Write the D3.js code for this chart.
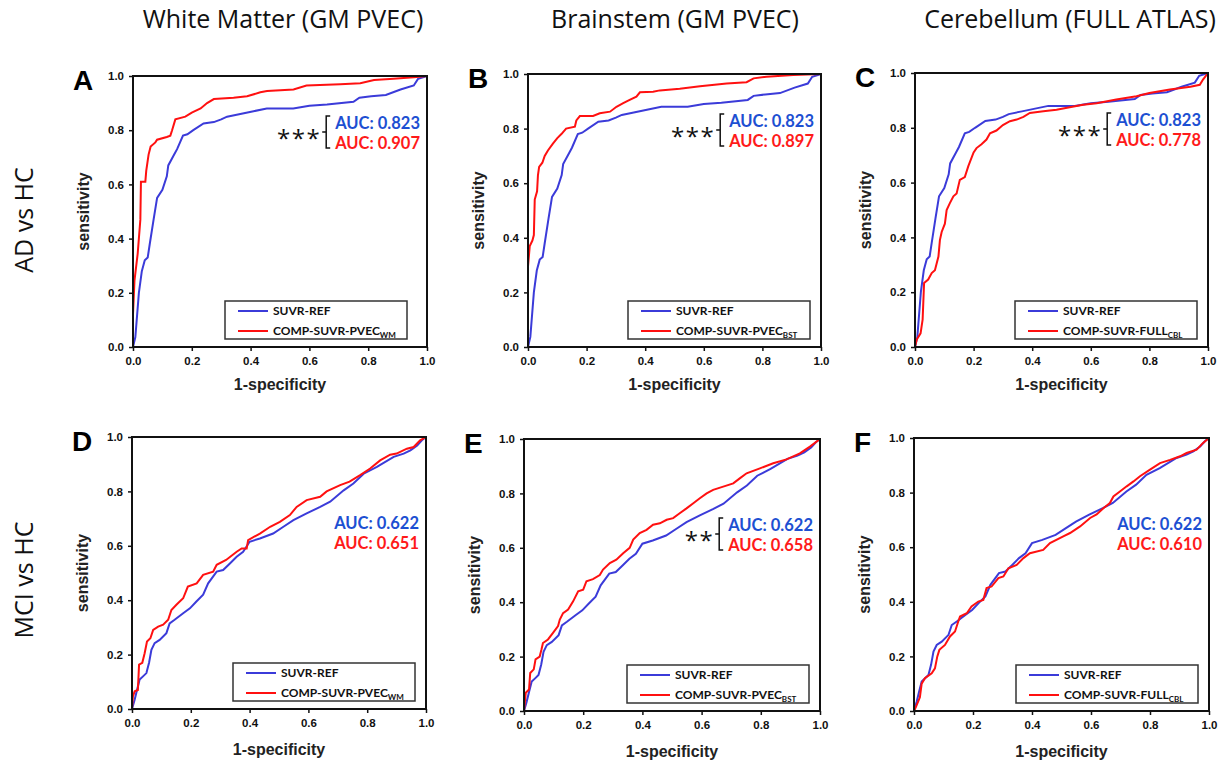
<!DOCTYPE html>
<html>
<head>
<meta charset="utf-8">
<script src="https://cdn.jsdelivr.net/npm/d3@7"></script>
<style>
  body { margin: 0; background: #fff; }
  .tick text { font-family: "Liberation Sans", Arial, sans-serif; font-weight: bold; font-size: 11.5px; fill: #111; }
  .tick line { stroke: #111; stroke-width: 1.5; }
  .axis-title { font-family: "Liberation Sans", Arial, sans-serif; font-weight: bold; font-size: 16px; fill: #222; }
  .panel-letter { font-family: "Liberation Sans", Arial, sans-serif; font-weight: bold; font-size: 28px; fill: #000; }
  .col-title, .row-title { font-family: "Open Sans", sans-serif; font-size: 25px; fill: #111; }
  .auc { font-family: Lato, sans-serif; font-weight: bold; font-size: 16.5px; }
  .stars { font-family: "Open Sans", sans-serif; font-size: 24px; letter-spacing: 1.5px; fill: #111; }
  .legend-text { font-family: Lato, sans-serif; font-weight: bold; font-size: 12px; fill: #111; }
</style>
</head>
<body>
<div id="chart"></div>
<script>
// column / row labels
var colTitles = ["White Matter (GM PVEC)", "Brainstem (GM PVEC)", "Cerebellum (FULL ATLAS)"];
var rowTitles = ["AD vs HC", "MCI vs HC"];
var panelLetters = ["A", "B", "C", "D", "E", "F"];
var tickValues = [0, 0.2, 0.4, 0.6, 0.8, 1.0];

// legend labels: [main, subscript]
var refLabel = "SUVR-REF";
var compLabels = [["COMP-SUVR-PVEC", "WM"], ["COMP-SUVR-PVEC", "BST"], ["COMP-SUVR-FULL", "CBL"],
                  ["COMP-SUVR-PVEC", "WM"], ["COMP-SUVR-PVEC", "BST"], ["COMP-SUVR-FULL", "CBL"]];

// AUC values and significance markers
var aucRef = ["0.823", "0.823", "0.823", "0.622", "0.622", "0.622"];
var aucComp = ["0.907", "0.897", "0.778", "0.651", "0.658", "0.610"];
var signif = ["***", "***", "***", "", "**", ""];

// ROC points [1-specificity, sensitivity]
var refAD = [[0,0],[0.008,0.037],[0.02,0.2],[0.03,0.28],[0.04,0.32],[0.05,0.33],[0.057,0.38],[0.07,0.47],
  [0.082,0.55],[0.1,0.58],[0.115,0.63],[0.12,0.67],[0.14,0.71],[0.15,0.73],[0.17,0.78],[0.185,0.785],
  [0.205,0.8],[0.24,0.825],[0.275,0.83],[0.3,0.84],[0.32,0.85],[0.365,0.86],[0.41,0.87],[0.455,0.88],
  [0.545,0.88],[0.6,0.89],[0.66,0.895],[0.75,0.905],[0.77,0.92],[0.81,0.925],[0.86,0.93],[0.91,0.95],
  [0.955,0.965],[0.97,0.99],[1,1]];

var compA = [[0,0],[0,0.12],[0.005,0.245],[0.016,0.345],[0.025,0.47],[0.027,0.61],[0.042,0.61],[0.045,0.65],
  [0.053,0.71],[0.06,0.74],[0.076,0.755],[0.082,0.765],[0.115,0.775],[0.127,0.78],[0.133,0.8],[0.144,0.84],
  [0.178,0.85],[0.2,0.865],[0.23,0.88],[0.252,0.9],[0.275,0.915],[0.342,0.92],[0.388,0.925],[0.433,0.94],
  [0.456,0.945],[0.546,0.95],[0.59,0.965],[0.705,0.97],[0.773,0.973],[0.82,0.985],[0.886,0.99],[0.955,0.995],[1,1]];

var compB = [[0,0],[0,0.295],[0.006,0.37],[0.015,0.39],[0.02,0.41],[0.023,0.54],[0.031,0.57],[0.034,0.63],
  [0.038,0.66],[0.049,0.675],[0.057,0.7],[0.068,0.72],[0.085,0.745],[0.1,0.765],[0.114,0.78],[0.13,0.8],
  [0.16,0.807],[0.165,0.83],[0.177,0.846],[0.222,0.846],[0.245,0.856],[0.28,0.862],[0.302,0.88],[0.325,0.893],
  [0.347,0.905],[0.37,0.917],[0.382,0.933],[0.427,0.935],[0.45,0.94],[0.518,0.946],[0.587,0.955],[0.678,0.965],
  [0.746,0.97],[0.77,0.984],[0.814,0.99],[0.905,0.996],[1,1]];

var compC = [[0,0],[0.006,0.027],[0.019,0.05],[0.026,0.1],[0.031,0.234],[0.045,0.246],[0.057,0.27],[0.068,0.28],
  [0.08,0.33],[0.085,0.39],[0.091,0.42],[0.102,0.45],[0.108,0.5],[0.119,0.525],[0.131,0.55],[0.142,0.56],
  [0.153,0.61],[0.17,0.62],[0.182,0.66],[0.2,0.71],[0.21,0.726],[0.227,0.74],[0.244,0.757],[0.256,0.78],
  [0.278,0.79],[0.3,0.81],[0.324,0.824],[0.347,0.83],[0.37,0.84],[0.392,0.854],[0.438,0.86],[0.483,0.866],
  [0.528,0.875],[0.574,0.884],[0.62,0.89],[0.687,0.903],[0.756,0.915],[0.8,0.927],[0.87,0.94],[0.94,0.95],
  [0.972,0.957],[0.983,0.976],[1,1]];

var refMCI = [[0,0],[0.009,0.034],[0.017,0.07],[0.026,0.108],[0.0375,0.12],[0.049,0.132],[0.058,0.17],[0.066,0.218],
  [0.077,0.242],[0.094,0.254],[0.117,0.279],[0.128,0.315],[0.145,0.328],[0.174,0.352],[0.197,0.37],[0.219,0.395],
  [0.242,0.42],[0.259,0.462],[0.288,0.505],[0.31,0.511],[0.333,0.535],[0.356,0.56],[0.378,0.578],[0.4,0.615],
  [0.435,0.627],[0.48,0.645],[0.515,0.67],[0.549,0.694],[0.594,0.719],[0.64,0.743],[0.674,0.762],[0.72,0.804],
  [0.753,0.829],[0.788,0.865],[0.833,0.89],[0.89,0.927],[0.924,0.939],[0.947,0.951],[0.97,0.969],[0.986,0.988],[1,1]];

var compD = [[0,0],[0.003,0.046],[0.009,0.065],[0.02,0.07],[0.024,0.163],[0.035,0.17],[0.043,0.205],[0.051,0.248],
  [0.0625,0.26],[0.072,0.291],[0.089,0.303],[0.106,0.31],[0.123,0.328],[0.134,0.364],[0.151,0.383],[0.174,0.407],
  [0.19,0.45],[0.22,0.462],[0.242,0.493],[0.276,0.505],[0.288,0.53],[0.32,0.548],[0.356,0.578],[0.373,0.59],
  [0.39,0.59],[0.395,0.621],[0.435,0.645],[0.47,0.67],[0.503,0.688],[0.537,0.713],[0.56,0.743],[0.594,0.768],
  [0.64,0.78],[0.662,0.8],[0.708,0.823],[0.74,0.836],[0.776,0.86],[0.81,0.884],[0.844,0.914],[0.878,0.935],
  [0.9,0.939],[0.935,0.957],[0.958,0.963],[0.98,0.988],[1,1]];

var compE = [[0,0],[0.006,0.067],[0.017,0.079],[0.021,0.14],[0.033,0.153],[0.039,0.19],[0.053,0.2],[0.059,0.226],
  [0.064,0.25],[0.081,0.263],[0.098,0.287],[0.115,0.312],[0.121,0.336],[0.132,0.36],[0.149,0.373],[0.166,0.403],
  [0.183,0.44],[0.2,0.446],[0.211,0.477],[0.233,0.485],[0.256,0.5],[0.267,0.52],[0.29,0.544],[0.312,0.556],
  [0.335,0.58],[0.357,0.6],[0.369,0.63],[0.391,0.654],[0.414,0.666],[0.436,0.685],[0.459,0.69],[0.482,0.703],
  [0.504,0.709],[0.526,0.727],[0.549,0.745],[0.572,0.764],[0.594,0.782],[0.617,0.8],[0.639,0.813],[0.673,0.825],
  [0.707,0.837],[0.73,0.856],[0.752,0.874],[0.797,0.892],[0.842,0.911],[0.887,0.925],[0.932,0.947],[0.966,0.972],[1,1]];

var compF = [[0,0],[0.007,0.016],[0.02,0.05],[0.026,0.1],[0.037,0.12],[0.06,0.138],[0.071,0.156],[0.079,0.2],
  [0.086,0.224],[0.105,0.242],[0.122,0.273],[0.139,0.291],[0.15,0.328],[0.156,0.346],[0.179,0.358],[0.195,0.383],
  [0.218,0.401],[0.235,0.407],[0.246,0.45],[0.263,0.456],[0.286,0.487],[0.303,0.493],[0.32,0.523],[0.348,0.535],
  [0.371,0.56],[0.393,0.578],[0.438,0.59],[0.461,0.615],[0.506,0.64],[0.529,0.652],[0.563,0.676],[0.597,0.707],
  [0.619,0.72],[0.642,0.743],[0.664,0.762],[0.676,0.786],[0.698,0.804],[0.721,0.823],[0.744,0.841],[0.766,0.86],
  [0.8,0.884],[0.834,0.908],[0.868,0.92],[0.902,0.933],[0.924,0.945],[0.958,0.957],[0.98,0.982],[1,1]];

var refSeries = [refAD, refAD, refAD, refMCI, refMCI, refMCI];
var compSeries = [compA, compB, compC, compD, compE, compF];

// layout
var W = 1224, H = 764;
var frames = [
  { l: 133, r: 427, t: 76, b: 347 },
  { l: 528, r: 821, t: 74, b: 347 },
  { l: 915, r: 1208, t: 73, b: 347 },
  { l: 132, r: 426, t: 437, b: 709 },
  { l: 524, r: 820, t: 439, b: 711 },
  { l: 914, r: 1209, t: 438, b: 711 }
];
var colCenters = [283, 675, 1070];
var rowCenters = [220, 580];

var refColor = "#3b3bd9", compColor = "#ff1010";
var aucBlue = "#1d4fd2", aucRed = "#ff1a1a";

var svg = d3.select("#chart").append("svg").attr("width", W).attr("height", H);

colTitles.forEach(function (t, i) {
  svg.append("text").attr("class", "col-title")
    .attr("x", colCenters[i]).attr("y", 28)
    .attr("text-anchor", "middle").text(t);
});

rowTitles.forEach(function (t, i) {
  svg.append("text").attr("class", "row-title")
    .attr("transform", "translate(33," + rowCenters[i] + ") rotate(-90)")
    .attr("text-anchor", "middle").text(t);
});

function drawPanel(i) {
  var f = frames[i];
  var x = d3.scaleLinear().domain([0, 1]).range([f.l, f.r]);
  var y = d3.scaleLinear().domain([0, 1]).range([f.b, f.t]);
  var g = svg.append("g");
  var bottomRow = i >= 3;

  // axes
  g.append("g").attr("transform", "translate(0," + f.b + ")")
    .call(d3.axisBottom(x).tickValues(tickValues).tickFormat(d3.format(".1f")).tickSize(4).tickPadding(6))
    .call(function (a) { a.select(".domain").remove(); });
  g.append("g").attr("transform", "translate(" + f.l + ",0)")
    .call(d3.axisLeft(y).tickValues(tickValues).tickFormat(d3.format(".1f")).tickSize(4).tickPadding(5))
    .call(function (a) { a.select(".domain").remove(); });

  g.append("text").attr("class", "axis-title")
    .attr("x", (f.l + f.r) / 2).attr("y", f.b + (bottomRow ? 46 : 43))
    .attr("text-anchor", "middle").text("1-specificity");
  g.append("text").attr("class", "axis-title")
    .attr("transform", "translate(" + (f.l - 44) + "," + (f.t + f.b) / 2 + ") rotate(-90)")
    .attr("text-anchor", "middle").text("sensitivity");

  g.append("text").attr("class", "panel-letter")
    .attr("x", f.l - 60).attr("y", f.t + 14).text(panelLetters[i]);

  // curves
  var line = d3.line()
    .x(function (d) { return x(d[0]); })
    .y(function (d) { return y(d[1]); });

  g.append("path").attr("d", line(refSeries[i]))
    .attr("fill", "none").attr("stroke", refColor).attr("stroke-width", 2);
  g.append("path").attr("d", line(compSeries[i]))
    .attr("fill", "none").attr("stroke", compColor).attr("stroke-width", 2);

  // frame
  g.append("rect").attr("x", f.l).attr("y", f.t)
    .attr("width", f.r - f.l).attr("height", f.b - f.t)
    .attr("fill", "none").attr("stroke", "#111").attr("stroke-width", 2);

  // AUC labels
  var aucRight = f.r - 7;
  var aucY = f.t + (bottomRow ? 92 : 53);
  var blueText = g.append("text").attr("class", "auc")
    .attr("x", aucRight).attr("y", aucY).attr("text-anchor", "end")
    .attr("fill", aucBlue).text("AUC: " + aucRef[i]);
  g.append("text").attr("class", "auc")
    .attr("x", aucRight).attr("y", aucY + 20).attr("text-anchor", "end")
    .attr("fill", aucRed).text("AUC: " + aucComp[i]);

  if (signif[i]) {
    var bx = aucRight - blueText.node().getComputedTextLength() - 9;
    var top = aucY - 13, bot = aucY + 19, mid = (top + bot) / 2;
    g.append("path")
      .attr("d", "M" + (bx + 4) + "," + top + "H" + bx + "V" + bot + "H" + (bx + 4) +
                 "M" + bx + "," + mid + "H" + (bx - 4))
      .attr("fill", "none").attr("stroke", "#111").attr("stroke-width", 1.5);
    g.append("text").attr("class", "stars").attr("x", bx - 5).attr("y", mid + 15)
      .attr("text-anchor", "end").text(signif[i]);
  }

  // legend
  var lw = 182, lh = 38;
  var lx = f.r - lw - (i === 0 ? 20 : 11), ly = f.b - lh - 8;
  var leg = g.append("g").attr("transform", "translate(" + lx + "," + ly + ")");
  leg.append("rect").attr("width", lw).attr("height", lh)
    .attr("fill", "#fff").attr("stroke", "#333").attr("stroke-width", 1.5);
  [[refColor, refLabel, null], [compColor, compLabels[i][0], compLabels[i][1]]].forEach(function (e, k) {
    var yy = 10 + k * 20;
    leg.append("line").attr("x1", 13).attr("x2", 43).attr("y1", yy).attr("y2", yy)
      .attr("stroke", e[0]).attr("stroke-width", 2);
    var t = leg.append("text").attr("class", "legend-text")
      .attr("x", 48).attr("y", yy + 4).text(e[1]);
    if (e[2]) {
      t.append("tspan").attr("dy", 3).style("font-size", "8px").text(e[2]);
    }
  });
}

d3.range(6).forEach(drawPanel);
</script>
</body>
</html>
